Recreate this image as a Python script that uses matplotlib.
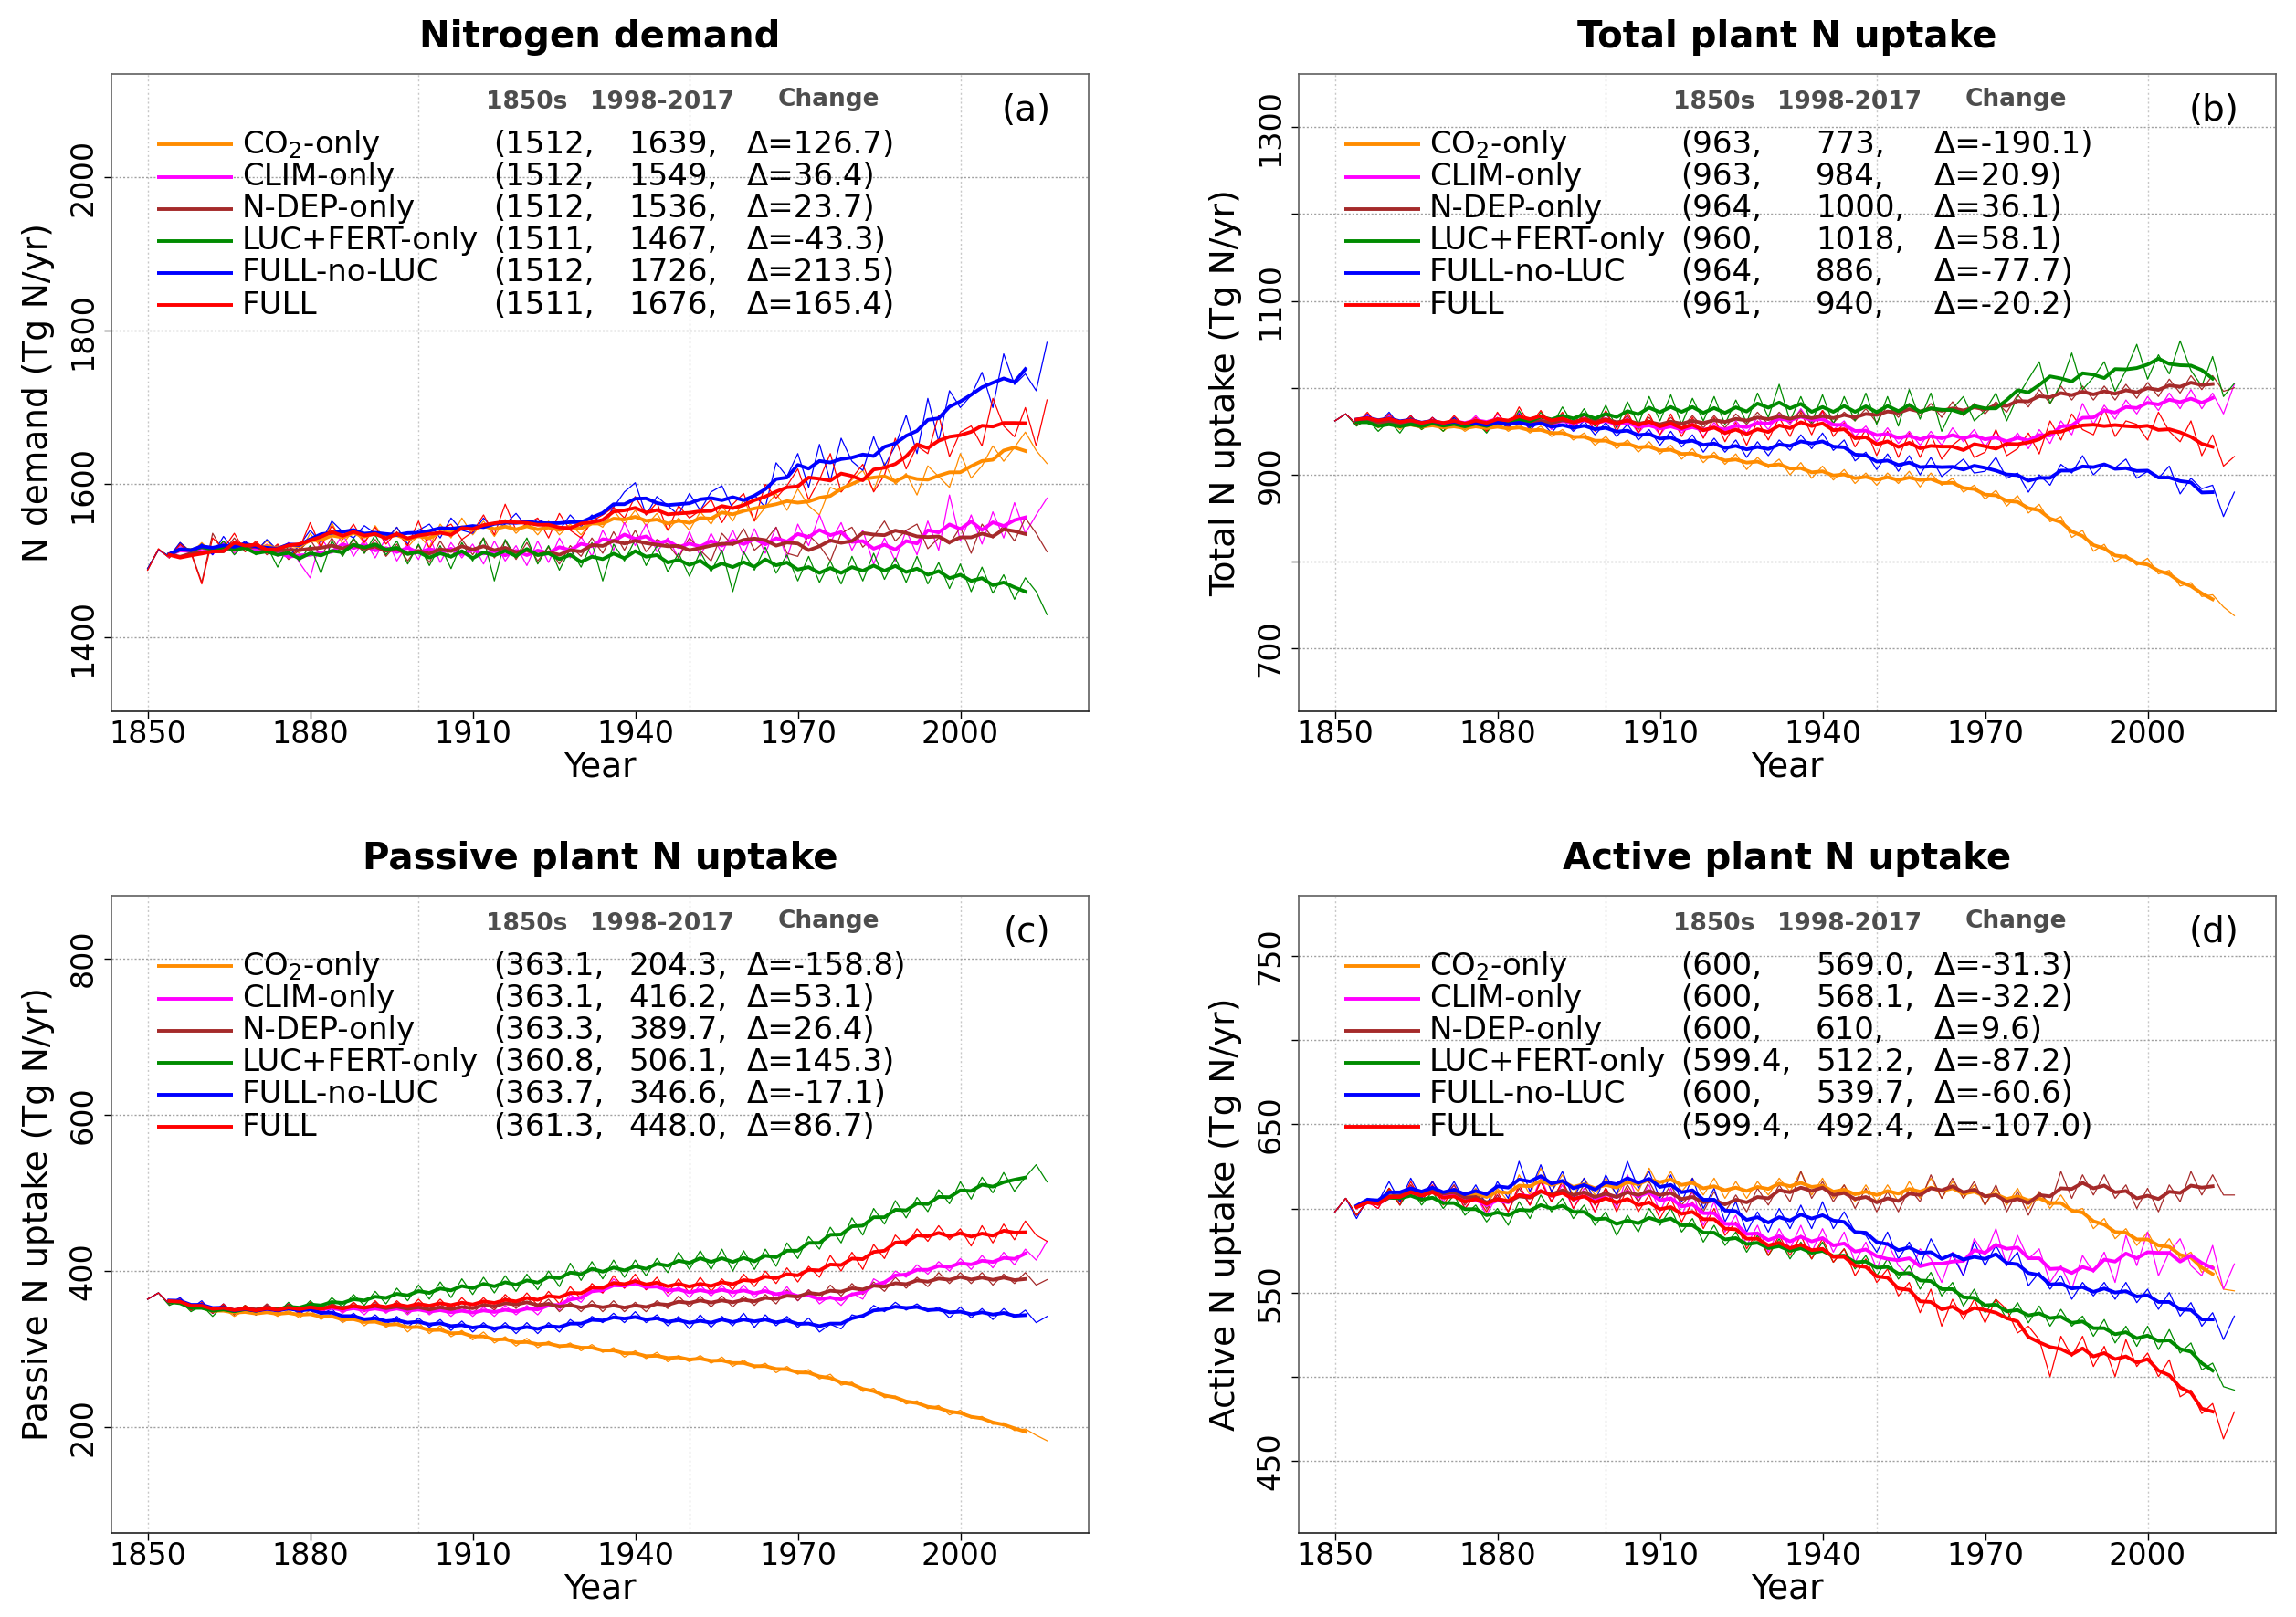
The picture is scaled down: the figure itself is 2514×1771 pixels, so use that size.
import matplotlib
matplotlib.use('Agg')
import matplotlib.pyplot as plt
import numpy as np
import pandas as pd

plt.rcParams['font.family'] = ['DejaVu Sans']
plt.rcParams['mathtext.fontset'] = 'dejavusans'

# annual values sampled every 2 years, 1850-2016
YEARS = np.arange(1850, 2018, 2)

SCENARIOS = ['CO$_2$-only', 'CLIM-only', 'N-DEP-only', 'LUC+FERT-only', 'FULL-no-LUC', 'FULL']
COLORS = ['#ff8c00', '#ff00ff', '#a52a2a', '#008b00', '#0000ff', '#ff0000']

# ---- (a) Nitrogen demand ----
A_CO2 = [1490, 1514, 1506, 1520, 1510, 1524, 1510, 1526, 1512, 1524, 1514, 1526, 1512, 1520, 1510,
         1536, 1518, 1550, 1522, 1540, 1524, 1546, 1526, 1544, 1518, 1534, 1518, 1548, 1530, 1556,
         1534, 1552, 1532, 1554, 1536, 1550, 1534, 1552, 1534, 1548, 1534, 1552, 1544, 1566, 1548,
         1566, 1546, 1562, 1540, 1556, 1540, 1564, 1548, 1572, 1552, 1580, 1552, 1570, 1588, 1566,
         1594, 1572, 1560, 1596, 1590, 1606, 1618, 1592, 1628, 1600, 1614, 1586, 1624, 1610, 1596,
         1640, 1608, 1624, 1650, 1630, 1648, 1668, 1644, 1627]
A_CLIM = [1490, 1514, 1505, 1520, 1508, 1522, 1508, 1524, 1510, 1522, 1510, 1522, 1506, 1524, 1498,
          1478, 1530, 1510, 1536, 1506, 1528, 1504, 1530, 1500, 1522, 1502, 1532, 1498, 1524, 1504,
          1522, 1496, 1526, 1500, 1520, 1494, 1526, 1498, 1530, 1504, 1532, 1506, 1540, 1514, 1550,
          1520, 1548, 1512, 1530, 1504, 1538, 1506, 1536, 1510, 1540, 1508, 1542, 1510, 1544, 1504,
          1548, 1520, 1560, 1524, 1550, 1514, 1540, 1496, 1530, 1500, 1540, 1508, 1552, 1514, 1586,
          1526, 1560, 1522, 1564, 1530, 1576, 1536, 1560, 1582]
A_NDEP = [1488, 1515, 1504, 1524, 1512, 1472, 1536, 1512, 1530, 1512, 1524, 1508, 1520, 1502, 1514,
          1528, 1506, 1530, 1508, 1528, 1510, 1528, 1506, 1522, 1500, 1520, 1498, 1526, 1504, 1528,
          1508, 1530, 1504, 1526, 1502, 1524, 1500, 1518, 1496, 1520, 1506, 1530, 1510, 1538, 1514,
          1540, 1512, 1528, 1522, 1504, 1530, 1514, 1500, 1536, 1520, 1542, 1514, 1526, 1544, 1510,
          1506, 1534, 1520, 1500, 1536, 1544, 1518, 1532, 1552, 1526, 1540, 1548, 1516, 1530, 1522,
          1544, 1510, 1548, 1530, 1546, 1526, 1556, 1536, 1512]
A_LUC = [1490, 1515, 1506, 1522, 1510, 1522, 1510, 1526, 1508, 1522, 1508, 1520, 1492, 1520, 1500,
         1520, 1484, 1526, 1506, 1530, 1510, 1534, 1508, 1526, 1496, 1522, 1494, 1520, 1490, 1524,
         1500, 1530, 1474, 1528, 1504, 1530, 1496, 1520, 1488, 1516, 1492, 1524, 1474, 1522, 1500,
         1528, 1494, 1520, 1486, 1510, 1480, 1512, 1486, 1514, 1460, 1512, 1488, 1518, 1484, 1508,
         1474, 1506, 1472, 1500, 1470, 1506, 1474, 1510, 1476, 1504, 1472, 1506, 1470, 1498, 1464,
         1496, 1460, 1492, 1458, 1482, 1450, 1478, 1460, 1430]
A_NOLUC = [1490, 1515, 1506, 1524, 1510, 1522, 1508, 1532, 1514, 1526, 1512, 1528, 1514, 1506, 1520,
           1540, 1524, 1552, 1538, 1530, 1546, 1536, 1528, 1544, 1522, 1540, 1548, 1530, 1556, 1540,
           1536, 1556, 1540, 1548, 1562, 1544, 1554, 1548, 1540, 1560, 1545, 1560, 1548, 1570, 1590,
           1602, 1560, 1584, 1572, 1560, 1588, 1566, 1590, 1598, 1568, 1574, 1586, 1570, 1628, 1610,
           1640, 1596, 1652, 1604, 1660, 1630, 1618, 1662, 1624, 1650, 1690, 1640, 1712, 1656, 1722,
           1700, 1716, 1746, 1700, 1770, 1730, 1744, 1722, 1785]
A_FULL = [1488, 1516, 1504, 1522, 1510, 1470, 1530, 1516, 1536, 1512, 1526, 1510, 1522, 1504, 1516,
          1550, 1518, 1546, 1528, 1548, 1524, 1544, 1522, 1538, 1520, 1552, 1516, 1540, 1548, 1528,
          1538, 1560, 1534, 1574, 1540, 1548, 1556, 1530, 1562, 1540, 1530, 1552, 1560, 1570, 1556,
          1584, 1560, 1576, 1540, 1572, 1556, 1566, 1580, 1550, 1574, 1588, 1552, 1600, 1582, 1598,
          1620, 1580, 1606, 1640, 1590, 1608, 1626, 1590, 1612, 1660, 1620, 1650, 1640, 1690, 1636,
          1668, 1676, 1650, 1712, 1676, 1662, 1700, 1650, 1710]
A_START = ['(1512,', '(1512,', '(1512,', '(1511,', '(1512,', '(1511,']
A_END = ['1639,', '1549,', '1536,', '1467,', '1726,', '1676,']
A_CHANGE = ['Δ=126.7)', 'Δ=36.4)', 'Δ=23.7)', 'Δ=-43.3)', 'Δ=213.5)', 'Δ=165.4)']

# ---- (b) Total plant N uptake ----
B_CO2 = [962, 970, 958, 966, 954, 962, 952, 962, 952, 960, 950, 960, 950, 958, 950,
         960, 950, 958, 948, 956, 944, 952, 940, 948, 934, 944, 930, 940, 926, 938,
         924, 934, 918, 930, 914, 926, 912, 924, 906, 920, 908, 918, 900, 914, 896,
         910, 894, 906, 890, 902, 888, 902, 890, 904, 886, 902, 888, 896, 880, 888,
         872, 882, 864, 876, 856, 866, 846, 852, 828, 836, 812, 820, 800, 808, 796,
         804, 786, 790, 772, 776, 760, 762, 748, 738]
B_CLIM = [962, 970, 958, 968, 956, 968, 956, 966, 956, 964, 954, 966, 956, 968, 954,
          970, 956, 972, 950, 966, 952, 970, 954, 968, 952, 970, 954, 966, 948, 962,
          946, 962, 948, 960, 944, 960, 946, 962, 948, 966, 952, 970, 958, 976, 958,
          972, 952, 962, 944, 956, 938, 954, 936, 950, 934, 950, 934, 954, 938, 952,
          932, 950, 932, 948, 930, 952, 936, 962, 946, 982, 958, 980, 964, 986, 970,
          990, 974, 994, 976, 998, 976, 994, 970, 1004]
B_NDEP = [962, 970, 958, 966, 956, 966, 954, 964, 954, 962, 954, 964, 954, 962, 952,
          964, 954, 968, 954, 966, 954, 968, 956, 970, 956, 970, 956, 968, 952, 966,
          952, 966, 954, 968, 954, 968, 954, 970, 958, 972, 958, 972, 960, 974, 958,
          974, 960, 972, 962, 976, 960, 980, 966, 982, 968, 982, 966, 984, 968, 982,
          970, 984, 972, 992, 978, 998, 982, 1002, 986, 1002, 986, 1002, 986, 1004, 988,
          1006, 990, 1010, 994, 1014, 998, 1014, 996, 1000]
B_LUC = [962, 970, 956, 964, 950, 962, 948, 966, 952, 962, 950, 966, 952, 962, 948,
         966, 952, 974, 954, 972, 956, 978, 958, 976, 956, 980, 954, 984, 958, 990,
         962, 992, 958, 988, 962, 990, 958, 986, 960, 994, 966, 1004, 962, 990, 960,
         992, 958, 990, 962, 994, 958, 990, 956, 998, 964, 994, 950, 976, 990, 962,
         974, 994, 962, 990, 1010, 1030, 982, 1004, 1040, 998, 1012, 1030, 996, 1020, 1050,
         1010, 1038, 1016, 1054, 1020, 1002, 1036, 990, 1005]
B_NOLUC = [962, 970, 958, 970, 958, 972, 956, 968, 954, 966, 956, 966, 954, 964, 952,
           962, 954, 970, 952, 962, 948, 964, 950, 962, 946, 960, 944, 958, 940, 952,
           934, 950, 932, 946, 926, 942, 926, 940, 920, 938, 922, 940, 928, 946, 930,
           948, 928, 940, 916, 926, 906, 924, 904, 922, 900, 920, 898, 908, 918, 902,
           904, 920, 896, 902, 880, 900, 888, 912, 902, 922, 900, 912, 908, 918, 896,
           904, 896, 910, 878, 896, 884, 888, 852, 880]
B_FULL = [962, 970, 958, 972, 956, 970, 956, 968, 954, 966, 954, 968, 956, 966, 950,
          972, 954, 978, 958, 974, 956, 972, 952, 970, 950, 974, 950, 972, 948, 970,
          946, 970, 944, 966, 942, 966, 938, 960, 934, 962, 940, 966, 944, 972, 946,
          974, 944, 960, 932, 952, 922, 950, 920, 948, 920, 946, 918, 934, 944, 920,
          926, 952, 922, 930, 948, 924, 962, 940, 970, 952, 946, 976, 944, 962, 958,
          940, 972, 950, 938, 962, 922, 946, 910, 921]
B_START = ['(963,', '(963,', '(964,', '(960,', '(964,', '(961,']
B_END = ['773,', '984,', '1000,', '1018,', '886,', '940,']
B_CHANGE = ['Δ=-190.1)', 'Δ=20.9)', 'Δ=36.1)', 'Δ=58.1)', 'Δ=-77.7)', 'Δ=-20.2)']

# ---- (c) Passive plant N uptake ----
C_CO2 = [364, 372, 358, 362, 350, 356, 346, 352, 342, 350, 344, 350, 342, 350, 340,
         350, 338, 346, 334, 342, 330, 340, 328, 336, 322, 334, 320, 330, 316, 324,
         312, 322, 308, 316, 304, 314, 302, 310, 302, 308, 298, 306, 296, 302, 290,
         298, 288, 296, 284, 292, 284, 292, 282, 290, 278, 286, 276, 282, 270, 278,
         268, 274, 262, 268, 254, 258, 246, 250, 238, 240, 230, 234, 224, 228, 216,
         222, 212, 214, 204, 206, 196, 198, 190, 183]
C_CLIM = [364, 372, 358, 364, 350, 358, 346, 356, 346, 354, 346, 356, 346, 356, 346,
          358, 346, 358, 346, 356, 344, 358, 346, 356, 344, 356, 344, 354, 342, 354,
          342, 354, 342, 356, 344, 356, 344, 360, 350, 370, 360, 378, 372, 390, 378,
          390, 376, 386, 368, 380, 366, 382, 368, 382, 366, 382, 366, 380, 364, 380,
          362, 376, 358, 368, 356, 372, 364, 390, 382, 400, 392, 408, 396, 412, 400,
          416, 402, 420, 404, 424, 408, 428, 414, 438]
C_NDEP = [364, 372, 358, 364, 350, 358, 346, 356, 346, 356, 346, 358, 348, 358, 346,
          358, 348, 360, 348, 360, 348, 360, 348, 360, 346, 358, 346, 358, 346, 360,
          346, 360, 350, 366, 352, 366, 352, 364, 348, 360, 348, 362, 348, 362, 348,
          360, 348, 362, 352, 368, 354, 368, 354, 368, 354, 368, 356, 370, 358, 376,
          362, 376, 364, 382, 368, 384, 370, 386, 374, 392, 378, 392, 380, 398, 384,
          398, 384, 398, 382, 396, 384, 398, 382, 389]
C_LUC = [364, 372, 356, 362, 348, 356, 342, 356, 344, 356, 344, 356, 346, 360, 348,
         362, 350, 366, 354, 370, 356, 374, 358, 378, 362, 382, 364, 386, 366, 390,
         370, 392, 372, 394, 374, 396, 376, 400, 380, 410, 388, 412, 390, 414, 392,
         414, 394, 416, 398, 424, 402, 426, 402, 428, 400, 426, 402, 428, 406, 436,
         416, 444, 428, 456, 436, 468, 446, 480, 460, 490, 468, 494, 476, 504, 486,
         514, 492, 520, 500, 526, 502, 520, 536, 514]
C_NOLUC = [364, 372, 358, 366, 352, 362, 346, 358, 346, 354, 344, 356, 346, 358, 344,
           356, 344, 352, 336, 346, 334, 344, 332, 342, 328, 340, 328, 338, 324, 336,
           322, 334, 322, 334, 320, 334, 320, 334, 322, 338, 328, 342, 334, 346, 334,
           348, 334, 344, 330, 342, 326, 344, 328, 342, 330, 346, 328, 344, 330, 342,
           328, 340, 322, 332, 326, 344, 340, 356, 348, 360, 350, 358, 348, 354, 340,
           354, 340, 352, 338, 352, 340, 350, 334, 342]
C_FULL = [364, 372, 358, 364, 350, 360, 346, 358, 344, 356, 346, 356, 346, 358, 346,
          360, 346, 358, 348, 360, 348, 362, 348, 362, 350, 364, 350, 364, 350, 366,
          352, 366, 352, 370, 356, 372, 356, 374, 358, 380, 364, 384, 372, 394, 378,
          396, 376, 392, 372, 390, 372, 392, 374, 390, 376, 396, 380, 400, 384, 404,
          386, 406, 392, 420, 400, 424, 402, 434, 416, 446, 432, 454, 438, 458, 440,
          454, 432, 458, 436, 460, 440, 464, 446, 438]
C_START = ['(363.1,', '(363.1,', '(363.3,', '(360.8,', '(363.7,', '(361.3,']
C_END = ['204.3,', '416.2,', '389.7,', '506.1,', '346.6,', '448.0,']
C_CHANGE = ['Δ=-158.8)', 'Δ=53.1)', 'Δ=26.4)', 'Δ=145.3)', 'Δ=-17.1)', 'Δ=86.7)']

# ---- (d) Active plant N uptake ----
D_CO2 = [598, 606, 596, 604, 602, 612, 604, 614, 606, 616, 606, 614, 604, 612, 602,
         612, 604, 620, 608, 624, 610, 620, 608, 618, 608, 618, 608, 618, 610, 624,
         612, 622, 610, 618, 608, 618, 606, 616, 606, 616, 608, 618, 610, 622, 608,
         618, 606, 614, 604, 614, 604, 614, 604, 616, 606, 618, 606, 616, 606, 614,
         602, 612, 602, 612, 600, 610, 600, 608, 598, 600, 588, 594, 582, 588, 578,
         586, 574, 582, 570, 574, 562, 566, 552, 551]
D_CLIM = [598, 606, 596, 604, 600, 612, 602, 614, 604, 616, 604, 614, 600, 608, 596,
          608, 598, 614, 602, 618, 604, 614, 600, 612, 598, 612, 600, 620, 604, 614,
          598, 612, 596, 610, 590, 604, 586, 596, 578, 590, 574, 588, 576, 590, 574,
          588, 574, 586, 568, 580, 564, 580, 566, 560, 576, 570, 556, 574, 560, 582,
          572, 588, 566, 584, 570, 576, 556, 566, 552, 572, 562, 574, 556, 584, 566,
          586, 560, 574, 582, 566, 560, 578, 552, 567]
D_NDEP = [598, 606, 596, 604, 602, 612, 604, 614, 606, 616, 606, 614, 602, 610, 600,
          608, 598, 612, 602, 616, 604, 616, 604, 614, 602, 612, 602, 614, 604, 616,
          604, 614, 602, 610, 598, 610, 598, 608, 598, 612, 602, 614, 604, 622, 606,
          616, 604, 614, 600, 612, 598, 610, 598, 612, 604, 620, 606, 618, 606, 616,
          602, 614, 598, 610, 596, 610, 602, 622, 606, 620, 608, 620, 606, 614, 600,
          612, 598, 614, 604, 622, 608, 620, 608, 608]
D_LUC = [598, 606, 596, 604, 602, 612, 602, 612, 602, 610, 600, 608, 596, 602, 592,
         600, 590, 604, 594, 608, 598, 606, 594, 602, 590, 598, 584, 596, 586, 600,
         590, 600, 586, 594, 580, 590, 578, 586, 574, 584, 572, 582, 570, 580, 570,
         580, 568, 576, 564, 572, 560, 570, 558, 566, 552, 562, 548, 556, 542, 552,
         538, 546, 534, 544, 532, 542, 530, 540, 530, 536, 524, 534, 520, 530, 518,
         530, 516, 528, 514, 520, 504, 508, 494, 492]
D_NOLUC = [598, 606, 594, 606, 604, 616, 604, 618, 606, 616, 606, 616, 604, 614, 602,
           616, 606, 628, 610, 626, 610, 622, 606, 618, 604, 620, 608, 628, 612, 622,
           606, 620, 604, 618, 600, 612, 592, 604, 586, 598, 586, 600, 588, 602, 588,
           604, 588, 598, 586, 584, 574, 586, 570, 580, 566, 582, 570, 572, 560, 580,
           566, 578, 566, 574, 554, 562, 552, 560, 546, 556, 548, 556, 546, 556, 544,
           552, 540, 550, 536, 544, 530, 538, 522, 536]
D_FULL = [598, 606, 596, 604, 600, 612, 602, 616, 604, 614, 602, 612, 600, 608, 598,
          610, 598, 614, 602, 616, 604, 616, 600, 610, 598, 612, 598, 612, 598, 608,
          594, 606, 592, 604, 588, 600, 584, 592, 576, 586, 572, 584, 572, 584, 570,
          582, 568, 576, 560, 570, 556, 564, 548, 556, 538, 552, 530, 546, 534, 546,
          532, 546, 540, 526, 530, 522, 500, 524, 512, 524, 506, 518, 500, 522, 506,
          514, 500, 510, 488, 492, 478, 484, 463, 479]
D_START = ['(600,', '(600,', '(600,', '(599.4,', '(600,', '(599.4,']
D_END = ['569.0,', '568.1,', '610,', '512.2,', '539.7,', '492.4,']
D_CHANGE = ['Δ=-31.3)', 'Δ=-32.2)', 'Δ=9.6)', 'Δ=-87.2)', 'Δ=-60.6)', 'Δ=-107.0)']

X_TICKS = [1850, 1880, 1910, 1940, 1970, 2000]
X_GRID = [1850, 1900, 1950, 2000]


def draw_panel(ax, title, ylabel, tag, ylim, yticks, ylabels, series, start, end, change):
    ax.set_xlim(1843.32, 2023.68)
    ax.set_ylim(*ylim)

    for x in X_GRID:
        ax.axvline(x, color='#c8c8c8', lw=1, ls=(0, (1.5, 2)), zorder=0)
    for y in yticks:
        ax.axhline(y, color='#a0a0a0', lw=1, ls=(0, (1.5, 1.5)), zorder=0)

    # annual lines first, then the 10-yr running means on top
    for vals, col in zip(series, COLORS):
        ax.plot(YEARS, vals, color=col, lw=0.9, zorder=2)
    for vals, col in zip(series, COLORS):
        smooth = pd.Series(vals, index=YEARS).rolling(5, center=True).mean()
        ax.plot(smooth.index, smooth.values, color=col, lw=2.8, zorder=3)

    ax.set_xticks(X_TICKS)
    ax.set_xticklabels([str(x) for x in X_TICKS])
    ax.set_yticks(yticks)
    ax.set_yticklabels(ylabels, rotation=90, va='center')
    ax.tick_params(axis='x', direction='out', length=5.5, width=1, labelsize=24, pad=1)
    ax.tick_params(axis='y', direction='out', length=5.5, width=1, labelsize=24, pad=5)

    for s in ax.spines.values():
        s.set_color('#606060')
        s.set_linewidth(1.2)
    ax.spines['bottom'].set_color('#202020')

    ax.text(0.5, 1.057, title, transform=ax.transAxes, ha='center', va='center',
            fontsize=29, fontweight='bold')
    ax.text(-0.075, 0.5, ylabel, transform=ax.transAxes, ha='center', va='center',
            rotation=90, fontsize=27)
    ax.text(0.5, -0.088, 'Year', transform=ax.transAxes, ha='center', va='center', fontsize=27)
    ax.text(0.9365, 0.942, tag, transform=ax.transAxes, ha='center', va='center', fontsize=28)

    # hand-made legend table
    hdr = dict(transform=ax.transAxes, ha='center', va='center', fontsize=19,
               fontweight='bold', color='#4d4d4d')
    ax.text(0.4252, 0.956, '1850s', **hdr)
    ax.text(0.5636, 0.956, '1998-2017', **hdr)
    ax.text(0.7336, 0.960, 'Change', **hdr)
    for i, (name, col) in enumerate(zip(SCENARIOS, COLORS)):
        y = 0.889 - i * 0.0503
        ax.plot([0.0467, 0.1243], [y, y], transform=ax.transAxes, color=col, lw=2.8,
                solid_capstyle='butt', zorder=4)
        kw = dict(transform=ax.transAxes, ha='left', va='center', fontsize=24.5)
        ax.text(0.1336, y, name, **kw)
        ax.text(0.3907, y, start[i], **kw)
        ax.text(0.529, y, end[i], **kw)
        ax.text(0.6505, y, change[i], **kw)


fig = plt.figure(figsize=(25.14, 17.71), dpi=100)
W, H = 0.42562, 0.39413
ax_a = fig.add_axes([0.04853, 0.56013, W, H])
ax_b = fig.add_axes([0.56563, 0.56013, W, H])
ax_c = fig.add_axes([0.04853, 0.05195, W, H])
ax_d = fig.add_axes([0.56563, 0.05195, W, H])

draw_panel(ax_a, 'Nitrogen demand', 'N demand (Tg N/yr)', '(a)', (1304, 2135),
           [1400, 1600, 1800, 2000], ['1400', '1600', '1800', '2000'],
           [A_CO2, A_CLIM, A_NDEP, A_LUC, A_NOLUC, A_FULL], A_START, A_END, A_CHANGE)
draw_panel(ax_b, 'Total plant N uptake', 'Total N uptake (Tg N/yr)', '(b)', (628, 1361),
           [700, 800, 900, 1000, 1100, 1200, 1300], ['700', '', '900', '', '1100', '', '1300'],
           [B_CO2, B_CLIM, B_NDEP, B_LUC, B_NOLUC, B_FULL], B_START, B_END, B_CHANGE)
draw_panel(ax_c, 'Passive plant N uptake', 'Passive N uptake (Tg N/yr)', '(c)', (65, 880),
           [200, 400, 600, 800], ['200', '400', '600', '800'],
           [C_CO2, C_CLIM, C_NDEP, C_LUC, C_NOLUC, C_FULL], C_START, C_END, C_CHANGE)
draw_panel(ax_d, 'Active plant N uptake', 'Active N uptake (Tg N/yr)', '(d)', (407, 786),
           [450, 500, 550, 600, 650, 700, 750], ['450', '', '550', '', '650', '', '750'],
           [D_CO2, D_CLIM, D_NDEP, D_LUC, D_NOLUC, D_FULL], D_START, D_END, D_CHANGE)

fig.savefig('out.png', dpi=100)
